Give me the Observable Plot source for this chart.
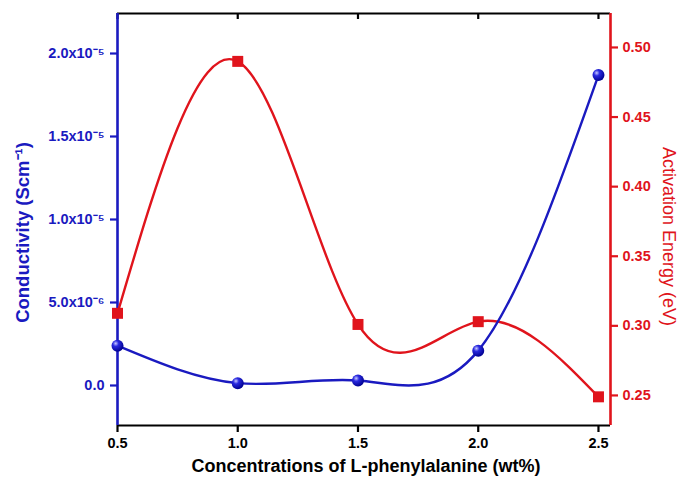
<!DOCTYPE html>
<html>
<head>
<meta charset="utf-8">
<script src="https://cdn.jsdelivr.net/npm/d3@7"></script>
<script src="https://cdn.jsdelivr.net/npm/@observablehq/plot@0.6"></script>
<style>
  html, body { margin: 0; padding: 0; background: white; }
</style>
</head>
<body>
<div id="chart"></div>
<script>
// ---- data ----
const concentration = [0.5, 1.0, 1.5, 2.0, 2.5];            // wt%
const conductivity  = [2.4e-6, 0.14e-6, 0.3e-6, 2.1e-6, 18.7e-6]; // S/cm
const activation    = [0.309, 0.490, 0.301, 0.303, 0.249];   // eV
const xTicks = [0.5, 1.0, 1.5, 2.0, 2.5];
const condTicks = [0, 5e-6, 1e-5, 1.5e-5, 2e-5];
const energyTicks = [0.25, 0.30, 0.35, 0.40, 0.45, 0.50];

const BLUE = "#1a1ac0";
const RED = "#e0141c";

// axis domains
const cLo = -2.41e-6, cHi = 22.41e-6;
const eLo = 0.2284, eHi = 0.5244;
const toC = e => cLo + (e - eLo) / (eHi - eLo) * (cHi - cLo);
const toE = c => eLo + (c - cLo) / (cHi - cLo) * (eHi - eLo);

const sup = s => s.replace(/-/g, "⁻").replace(/[0-9]/g, d => "⁰¹²³⁴⁵⁶⁷⁸⁹"[d]);
function sciFmt(v) {
  if (Math.abs(v) < 1e-12) return "0.0";
  const exp = Math.floor(Math.log10(Math.abs(v)) + 1e-9);
  const m = v / Math.pow(10, exp);
  return m.toFixed(1) + "x10" + sup(String(exp));
}

const condData = concentration.map((x, i) => ({x, c: conductivity[i]}));
const energyData = concentration.map((x, i) => ({x, e: activation[i]}));

const plotH = 486 - 13 - 61;

const chart = Plot.plot({
  width: 681,
  height: 486,
  marginLeft: 117,
  marginRight: 71,
  marginTop: 13,
  marginBottom: 61,
  x: {domain: [0.5, 2.55]},
  y: {domain: [cLo, cHi]},
  style: {fontFamily: "'Liberation Sans', Arial, sans-serif", fontSize: "14.5px", fontWeight: "bold", background: "white"},
  marks: [
    // frame
    Plot.ruleY([cHi], {stroke: "black", strokeWidth: 2.2}),
    Plot.ruleY([cLo], {stroke: "black", strokeWidth: 2.2}),
    // inward ticks on the top frame
    Plot.ruleX(xTicks, {insetBottom: plotH - 6, stroke: "black", strokeWidth: 2.2}),
    // x axis
    Plot.axisX({anchor: "bottom", ticks: xTicks, tickFormat: d => d.toFixed(1), tickSize: 7, tickPadding: 5, strokeWidth: 2.2, color: "black", label: null}),
    // left axis
    Plot.axisY({anchor: "left", ticks: condTicks, tickFormat: sciFmt, tickSize: 7, tickPadding: 6, strokeWidth: 2.2, color: BLUE, label: null}),
    // right axis
    Plot.axisY({anchor: "right", ticks: energyTicks.map(toC), tickFormat: c => (Math.round(toE(c) * 100) / 100).toFixed(2), tickSize: 7, tickPadding: 5, strokeWidth: 2.2, color: RED, label: null}),
    Plot.ruleX([0.5], {stroke: BLUE, strokeWidth: 2.6}),
    Plot.ruleX([2.55], {stroke: RED, strokeWidth: 2.6}),
    // axis titles
    Plot.text(["Conductivity (Scm⁻¹)"], {frameAnchor: "left", textAnchor: "middle", dx: -94, dy: 13, rotate: -90, fill: BLUE, fontSize: 18.5, fontWeight: "bold"}),
    Plot.text(["Activation Energy (eV)"], {frameAnchor: "right", textAnchor: "middle", dx: 58, dy: 17, rotate: 90, fill: RED, fontSize: 18, fontWeight: "normal"}),
    Plot.text(["Concentrations of L-phenylalanine (wt%)"], {frameAnchor: "bottom", textAnchor: "middle", dx: 2, dy: 46, fill: "black", fontSize: 18, fontWeight: "bold"}),
    // series
    Plot.line(energyData, {x: "x", y: d => toC(d.e), curve: "natural", stroke: RED, strokeWidth: 2.4}),
    Plot.line(condData, {x: "x", y: "c", curve: "natural", stroke: BLUE, strokeWidth: 2.4}),
    Plot.dot(energyData, {x: "x", y: d => toC(d.e), symbol: "square", r: 6.2, fill: RED, stroke: "none"}),
    Plot.dot(condData, {x: "x", y: "c", symbol: "circle", r: 6, fill: BLUE, stroke: "none"})
  ]
});

// sphere shading for the blue markers
const svg = d3.select(chart.tagName.toLowerCase() === "svg" ? chart : chart.querySelector("svg"));
const defs = svg.insert("defs", ":first-child");
const g = defs.append("radialGradient").attr("id", "ball").attr("cx", "35%").attr("cy", "32%").attr("r", "70%");
g.append("stop").attr("offset", "0%").attr("stop-color", "#c8c8ff");
g.append("stop").attr("offset", "35%").attr("stop-color", "#2a2ae0");
g.append("stop").attr("offset", "100%").attr("stop-color", "#000090");
svg.selectAll("circle").attr("fill", "url(#ball)");

document.getElementById("chart").appendChild(chart);
</script>
</body>
</html>
